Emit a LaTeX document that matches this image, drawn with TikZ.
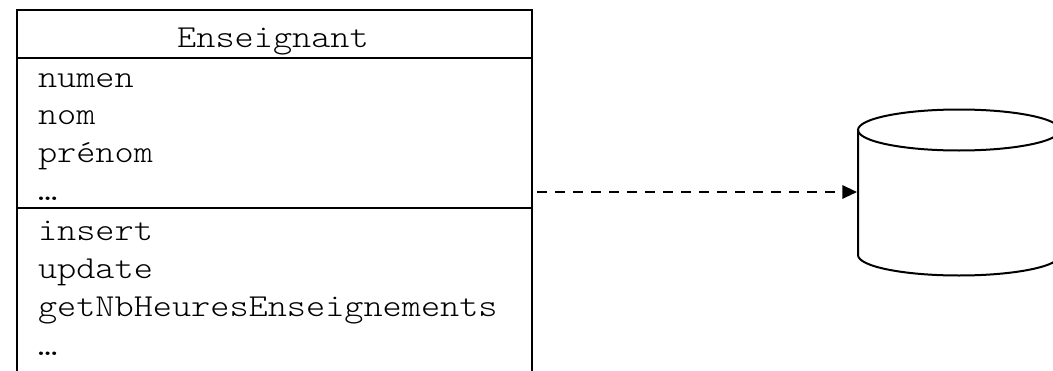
\documentclass[tikz,border=0pt]{standalone}
\usepackage{fontspec}
\setmonofont[FakeStretch=1.14]{Latin Modern Mono Light}
\usetikzlibrary{arrows.meta}

\begin{document}
\begin{tikzpicture}[x=0.75pt, y=-0.75pt, line width=1.5pt,
  member/.style={anchor=base west, inner sep=0pt,
    font=\ttfamily\fontsize{24}{28}\selectfont},
  classname/.style={anchor=base, inner sep=0pt,
    font=\ttfamily\fontsize{24}{28}\selectfont},
  dep/.style={dash pattern=on 7.5pt off 6pt,
    -{Triangle[length=11pt, width=10pt]}}]
\useasboundingbox (0,0) rectangle (1053,371);
\begin{scope}
  \clip (0,0) rectangle (1053,371);

  % class box: open at the bottom
  \draw (17,371) -- (17,10) -- (532,10) -- (532,371);
  \draw (17,58) -- (532,58);
  \draw (17,208) -- (532,208);

  % class name
  \node[classname] (title) at (273,47) {Enseignant};

  % attributes
  \node[member] (a1) at (37,87)  {numen};
  \node[member] (a2) at (37,124) {nom};
  \node[member] (a3) at (37,162) {prénom};
  \node[member] (a4) at (37,200) {…};

  % operations
  \node[member] (m1) at (37,240) {insert};
  \node[member] (m2) at (37,278) {update};
  \node[member] (m3) at (37,316) {getNbHeuresEnseignements};
  \node[member] (m4) at (37,355) {…};

  % database cylinder
  \draw (959,130) ellipse [x radius=101, y radius=20.5];
  \draw (858,130) -- (858,255)
        arc [start angle=180, end angle=0, x radius=101, y radius=20.5]
        -- (1060,130);

  % dependency from the class to the database
  \coordinate (src) at (537,192);
  \coordinate (db) at (857,192);
  \draw[dep] (src) -- (db);
\end{scope}
\end{tikzpicture}
\end{document}
